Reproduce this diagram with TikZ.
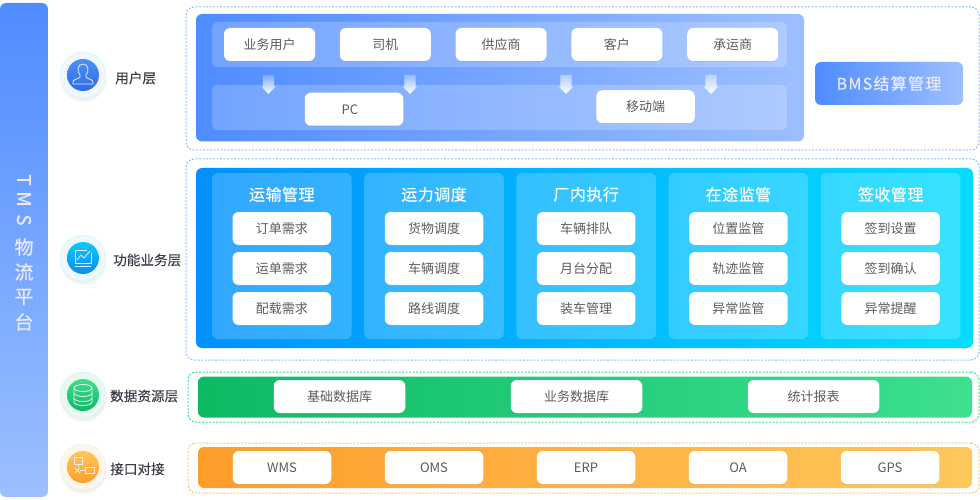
\documentclass[tikz,border=0pt]{standalone}
\usepackage{fontspec}
\setmainfont{Noto Sans CJK SC}
\newfontfamily\titlefont{Noto Sans CJK SC}[FakeBold=0.3, LetterSpace=3]
\newfontfamily\bmsfont{Noto Sans CJK SC}[FakeBold=0.3, LetterSpace=8]
\newfontfamily\labelfont{Noto Sans CJK SC}[FakeBold=0.15]
\usepackage{xcolor}
\usepackage{tikz}
\usetikzlibrary{shapes,arrows,positioning,shadows}

\definecolor{sidetop}{HTML}{4F8CFF}
\definecolor{sidebot}{HTML}{9CC0FF}
\definecolor{userleft}{HTML}{4F8CFF}
\definecolor{userright}{HTML}{9DBFFF}
\definecolor{funcleft}{HTML}{0090FF}
\definecolor{funcright}{HTML}{05DDFF}
\definecolor{dataleft}{HTML}{0DBA64}
\definecolor{dataright}{HTML}{3CE08F}
\definecolor{ifaceleft}{HTML}{FF9D2B}
\definecolor{ifaceright}{HTML}{FFC75C}
\definecolor{boxtext}{HTML}{5C5C5C}
\definecolor{labeltext}{HTML}{3C3F4A}
\definecolor{framecolor}{HTML}{8FBAFF}
\definecolor{dataframecolor}{HTML}{3CDC8E}
\definecolor{ifaceframecolor}{HTML}{FFC078}
\definecolor{userhalocolor}{HTML}{F0F7FF}
\definecolor{funchalocolor}{HTML}{EEF8FF}
\definecolor{datahalocolor}{HTML}{E9F9F1}
\definecolor{ifacehalocolor}{HTML}{FFF5EA}
\definecolor{usertop}{HTML}{4A90F5}
\definecolor{userbot}{HTML}{2F6BE8}
\definecolor{functop}{HTML}{10C8F8}
\definecolor{funcbot}{HTML}{0A8CF5}

\tikzset{
  framebox/.style={draw=#1, dashed, dash pattern=on 2pt off 1.5pt, line width=1pt, rounded corners=8pt, inner sep=0pt, outer sep=0pt},
  panelbox/.style={rectangle, rounded corners=6pt, inner sep=0pt, outer sep=0pt},
  stripbox/.style={fill=white, fill opacity=0.2, rectangle, rounded corners=6pt, inner sep=0pt, outer sep=0pt},
  whitebox/.style={fill=white, rectangle, rounded corners=6pt, inner sep=0pt, outer sep=0pt, text=boxtext, font=\fontsize{13}{13}\selectfont, minimum height=33pt, drop shadow={shadow xshift=0pt, shadow yshift=-1pt, opacity=0.12}},
  coltitle/.style={text=white, inner sep=0pt, outer sep=0pt, font=\titlefont\fontsize{16}{16}\selectfont},
  layerlabel/.style={text=labeltext, inner sep=0pt, outer sep=0pt, font=\labelfont\fontsize{13.6}{14}\selectfont},
  halo/.style={circle, fill=#1, draw=#1!88!cyan, line width=0.5pt, minimum size=46pt, inner sep=0pt, circular drop shadow={shadow xshift=0pt, shadow yshift=-3pt, shadow scale=1.06, fill=#1!70!gray, opacity=0.35}},
  iconline/.style={draw=white!85!gray, line width=0.8pt, line join=round},
  downarrow/.style={shape=single arrow, shape border rotate=270, minimum height=19pt, single arrow head extend=1.5pt, single arrow head indent=0pt, inner sep=5.5pt, top color=#1, bottom color=white},
  sidechar/.style={text=white!92!blue, inner sep=0pt, font=\titlefont\fontsize{19}{19}\selectfont}
}

\begin{document}
\begin{tikzpicture}[x=1pt, y=-1pt, node distance=25pt]
    \useasboundingbox (0,0) rectangle (980,500);

    % Left bar
    \node[panelbox, top color=sidetop, bottom color=sidebot, minimum width=48pt, minimum height=494pt] (sidebar) at (24,250) {};
    \node[sidechar, rotate=-90] (sideT) at (24,180) {T};
    \node[sidechar, rotate=-90] (sideM) at (24,199) {M};
    \node[sidechar, rotate=-90] (sideS) at (24,220) {S};
    \node[sidechar] (side1) at (24,247) {物};
    \node[sidechar] (side2) at (24,272) {流};
    \node[sidechar] (side3) at (24,297) {平};
    \node[sidechar] (side4) at (24,322) {台};

    % Layer badges and names
    \node[halo=userhalocolor] (userhalo) at (83,75) {};
    \node[circle, top color=usertop, bottom color=userbot, minimum size=32pt, inner sep=0pt] (usericon) at (userhalo) {};
    \node[layerlabel, right=9pt of userhalo, yshift=-3pt] (userlabel) {用户层};

    \node[halo=funchalocolor] (funchalo) at (83,258) {};
    \node[circle, top color=functop, bottom color=funcbot, minimum size=32pt, inner sep=0pt] (funcicon) at (funchalo) {};
    \node[layerlabel, right=7pt of funchalo, yshift=-2pt] (funclabel) {功能业务层};

    \node[halo=datahalocolor] (datahalo) at (83,395) {};
    \node[circle, top color=dataright, bottom color=dataleft, minimum size=32pt, inner sep=0pt] (dataicon) at (datahalo) {};
    \node[layerlabel, right=4pt of datahalo, yshift=-1pt] (datalabel) {数据资源层};

    \node[halo=ifacehalocolor] (ifacehalo) at (83,467) {};
    \node[circle, top color=ifaceright, bottom color=ifaceleft, minimum size=32pt, inner sep=0pt] (ifaceicon) at (ifacehalo) {};
    \node[layerlabel, right=4pt of ifacehalo, yshift=-2pt] (ifacelabel) {接口对接};

    % Badge glyphs
    \begin{scope}[shift={(83,75)}]
        \draw[iconline] (-3,0) .. controls (-6,-3) and (-6,-11) .. (0,-11) .. controls (6,-11) and (6,-3) .. (3,0) -- (3,2) .. controls (4,4) and (10,4) .. (10,7) -- (10,9) -- (-10,9) -- (-10,7) .. controls (-10,4) and (-4,4) .. (-3,2) -- cycle;
    \end{scope}
    \begin{scope}[shift={(83,258)}]
        \draw[iconline] (8,-5) -- (8,5) -- (-8,5) -- (-8,-8) -- (4,-8);
        \draw[iconline] (-8,8) -- (8,8);
        \draw[iconline] (-6,2) -- (-2,-3) -- (1,0) -- (7,-7);
    \end{scope}
    \begin{scope}[shift={(83,395)}]
        \draw[iconline] (0,-7) ellipse (9pt and 3.5pt);
        \draw[iconline] (-9,-7) -- (-9,7) arc (180:360:9pt and 3.5pt) -- (9,-7);
        \draw[iconline] (-9,-2) arc (180:360:9pt and 3.5pt);
        \draw[iconline] (-9,3) arc (180:360:9pt and 3.5pt);
    \end{scope}
    \begin{scope}[shift={(83,467)}]
        \draw[iconline] (-9,-10) rectangle (-1,-3);
        \draw[iconline] (2,0) rectangle (11,6);
        \draw[iconline] (-5,-3) -- (-5,0);
        \draw[iconline] (-8,1) -- (-3,6);
        \draw[iconline] (-3,1) -- (-8,6);
        \draw[iconline] (-3,3.5) -- (2,3.5);
    \end{scope}

    % Dashed frames
    \node[framebox=framecolor, minimum width=793pt, minimum height=143pt] (userframe) at (582.5,78.5) {};
    \node[framebox=framecolor, minimum width=793pt, minimum height=201pt] (funcframe) at (582.5,259.5) {};
    \node[framebox=dataframecolor, minimum width=791pt, minimum height=50pt] (dataframe) at (583.5,397) {};
    \node[framebox=ifaceframecolor, minimum width=791pt, minimum height=50pt] (ifaceframe) at (583.5,468) {};

    % User layer
    \node[panelbox, left color=userleft, right color=userright, minimum width=608pt, minimum height=127.5pt] (userpanel) at (500,77.75) {};
    \node[stripbox, minimum width=575pt, minimum height=45pt] (userstrip) at (499.5,44.5) {};
    \node[stripbox, minimum width=575pt, minimum height=45pt] (devstrip) at (499.5,107.5) {};
    \node[downarrow=userleft!75!white] (arrowa) at (268.5,81.5) {};
    \node[downarrow=userleft!60!white] (arrowb) at (410,81.5) {};
    \node[downarrow=userright!80!white] (arrowc) at (566,81.5) {};
    \node[downarrow=userright!70!white] (arrowd) at (711,81.5) {};
    \node[whitebox, minimum width=91pt] (yewu) at (269.5,44.5) {业务用户};
    \node[whitebox, minimum width=91pt, right=24.8pt of yewu] (siji) {司机};
    \node[whitebox, minimum width=91pt, right=24.8pt of siji] (gongying) {供应商};
    \node[whitebox, minimum width=91pt, right=24.8pt of gongying] (kehu) {客户};
    \node[whitebox, minimum width=91pt, right=24.8pt of kehu] (chengyun) {承运商};
    \node[whitebox, minimum width=98.5pt] (pc) at (354,109.25) {PC\kern8pt};
    \node[whitebox, minimum width=98.5pt] (mobile) at (645.5,106.75) {移动端};
    \node[panelbox, left color=userleft, right color=userright, minimum width=148pt, minimum height=43pt, text=white!92!blue, font=\bmsfont\fontsize{16}{16}\selectfont] (bms) at (889,83.5) {BMS结算管理};

    % Function layer
    \node[panelbox, left color=funcleft, right color=funcright, minimum width=777pt, minimum height=180pt] (funcpanel) at (584.5,258) {};
    \node[stripbox, minimum width=139.6pt, minimum height=166pt] (col1) at (281.8,256) {};
    \node[stripbox, minimum width=139.6pt, minimum height=166pt, right=12.6pt of col1] (col2) {};
    \node[stripbox, minimum width=139.6pt, minimum height=166pt, right=12.6pt of col2] (col3) {};
    \node[stripbox, minimum width=139.6pt, minimum height=166pt, right=12.6pt of col3] (col4) {};
    \node[stripbox, minimum width=139.6pt, minimum height=166pt, right=12.6pt of col4] (col5) {};

    \node[coltitle, below=14pt of col1.north] (title1) {运输管理};
    \node[whitebox, minimum width=98.5pt, below=39pt of col1.north] (c1a) {订单需求};
    \node[whitebox, minimum width=98.5pt, below=7pt of c1a] (c1b) {运单需求};
    \node[whitebox, minimum width=98.5pt, below=7pt of c1b] (c1c) {配载需求};

    \node[coltitle, below=14pt of col2.north] (title2) {运力调度};
    \node[whitebox, minimum width=98.5pt, below=39pt of col2.north] (c2a) {货物调度};
    \node[whitebox, minimum width=98.5pt, below=7pt of c2a] (c2b) {车辆调度};
    \node[whitebox, minimum width=98.5pt, below=7pt of c2b] (c2c) {路线调度};

    \node[coltitle, below=14pt of col3.north] (title3) {厂内执行};
    \node[whitebox, minimum width=98.5pt, below=39pt of col3.north] (c3a) {车辆排队};
    \node[whitebox, minimum width=98.5pt, below=7pt of c3a] (c3b) {月台分配};
    \node[whitebox, minimum width=98.5pt, below=7pt of c3b] (c3c) {装车管理};

    \node[coltitle, below=14pt of col4.north] (title4) {在途监管};
    \node[whitebox, minimum width=98.5pt, below=39pt of col4.north] (c4a) {位置监管};
    \node[whitebox, minimum width=98.5pt, below=7pt of c4a] (c4b) {轨迹监管};
    \node[whitebox, minimum width=98.5pt, below=7pt of c4b] (c4c) {异常监管};

    \node[coltitle, below=14pt of col5.north] (title5) {签收管理};
    \node[whitebox, minimum width=98.5pt, below=39pt of col5.north] (c5a) {签到设置};
    \node[whitebox, minimum width=98.5pt, below=7pt of c5a] (c5b) {签到确认};
    \node[whitebox, minimum width=98.5pt, below=7pt of c5b] (c5c) {异常提醒};

    % Data layer
    \node[panelbox, left color=dataleft, right color=dataright, minimum width=774pt, minimum height=41pt] (datapanel) at (585,397) {};
    \node[whitebox, minimum width=131.5pt] (jichu) at (339.5,396.5) {基础数据库};
    \node[whitebox, minimum width=131.5pt, right=105.5pt of jichu] (yewudb) {业务数据库};
    \node[whitebox, minimum width=131.5pt, right=105.5pt of yewudb] (tongji) {统计报表};

    % Interface layer
    \node[panelbox, left color=ifaceleft, right color=ifaceright, minimum width=774pt, minimum height=41pt] (ifacepanel) at (585,467.5) {};
    \node[whitebox, minimum width=98.5pt] (wms) at (282,467.5) {WMS};
    \node[whitebox, minimum width=98.5pt, right=53.5pt of wms] (oms) {OMS};
    \node[whitebox, minimum width=98.5pt, right=53.5pt of oms] (erp) {ERP};
    \node[whitebox, minimum width=98.5pt, right=53.5pt of erp] (oa) {OA};
    \node[whitebox, minimum width=98.5pt, right=53.5pt of oa] (gps) {GPS};
\end{tikzpicture}
\end{document}
